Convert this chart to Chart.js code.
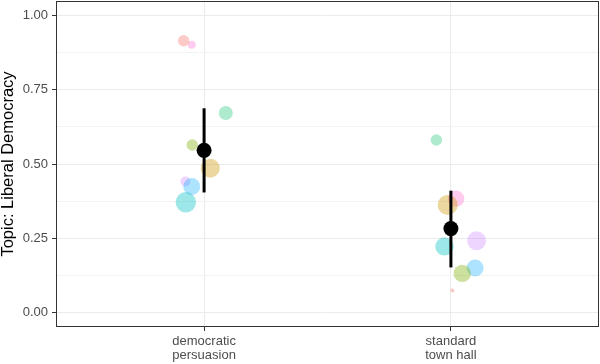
<!DOCTYPE html>
<html>
<head>
<meta charset="utf-8">
<script src="https://cdn.jsdelivr.net/npm/chart.js@4"></script>
<style>
  html, body { margin: 0; padding: 0; background: #ffffff; }
  #wrap { width: 600px; height: 364px; }
</style>
</head>
<body>
<div id="wrap"><canvas id="c" width="600" height="364"></canvas></div>
<script>
// ---- data ----
const categories = ["democratic persuasion", "standard town hall"];
const tickLabels = [["democratic", "persuasion"], ["standard", "town hall"]];
const yTickValues = [0, 0.25, 0.5, 0.75, 1];
const yTickLabels = ["0.00", "0.25", "0.50", "0.75", "1.00"];
const yTitle = "Topic: Liberal Democracy";

const seriesNames = ["s1", "s2", "s3", "s4", "s5", "s6", "s7", "s8"];
// value per category [democratic persuasion, standard town hall]
const s1Values = [0.916, 0.073];
const s2Values = [0.486, 0.362];
const s3Values = [0.564, 0.131];
const s4Values = [0.672, 0.581];
const s5Values = [0.371, 0.222];
const s6Values = [0.424, 0.149];
const s7Values = [0.441, 0.241];
const s8Values = [0.902, 0.383];
// horizontal jitter (in category units)
const s1Jitter = [-0.083, 0.006];
const s2Jitter = [0.025, -0.013];
const s3Jitter = [-0.048, 0.046];
const s4Jitter = [0.088, -0.059];
const s5Jitter = [-0.074, -0.026];
const s6Jitter = [-0.050, 0.098];
const s7Jitter = [-0.076, 0.104];
const s8Jitter = [-0.050, 0.021];
// point size variable
const s1Size = [5.7, 2.0];
const s2Size = [9.5, 10.0];
const s3Size = [5.7, 8.7];
const s4Size = [7.0, 5.7];
const s5Size = [10.2, 9.2];
const s6Size = [8.5, 8.5];
const s7Size = [5.0, 9.4];
const s8Size = [4.0, 8.2];

const meanValues = [0.546, 0.282];
const lowerValues = [0.404, 0.151];
const upperValues = [0.688, 0.410];

// ---- styles ----
const seriesColors = [
  "rgba(248,118,109,0.38)",
  "rgba(205,150,0,0.38)",
  "rgba(124,174,0,0.38)",
  "rgba(0,190,103,0.32)",
  "rgba(0,191,196,0.38)",
  "rgba(0,169,255,0.32)",
  "rgba(199,124,255,0.32)",
  "rgba(255,97,204,0.32)"
];
const allValues = [s1Values, s2Values, s3Values, s4Values, s5Values, s6Values, s7Values, s8Values];
const allJitter = [s1Jitter, s2Jitter, s3Jitter, s4Jitter, s5Jitter, s6Jitter, s7Jitter, s8Jitter];
const allSizes = [s1Size, s2Size, s3Size, s4Size, s5Size, s6Size, s7Size, s8Size];

const datasets = [];
datasets.push({
  type: "scatter",
  label: "mean",
  data: meanValues.map((v, i) => ({ x: i + 1, y: v })),
  backgroundColor: "#000000",
  borderWidth: 0,
  pointRadius: 7.5,
  order: 0
});
categories.forEach((c, i) => {
  datasets.push({
    type: "line",
    label: "interval " + c,
    data: [{ x: i + 1, y: lowerValues[i] }, { x: i + 1, y: upperValues[i] }],
    borderColor: "#000000",
    borderWidth: 3,
    pointRadius: 0,
    fill: false,
    order: 1
  });
});
seriesNames.forEach((name, s) => {
  datasets.push({
    type: "scatter",
    label: name,
    data: allValues[s].map((v, i) => ({ x: i + 1 + allJitter[s][i], y: v })),
    backgroundColor: seriesColors[s],
    borderWidth: 0,
    pointRadius: allSizes[s],
    pointHoverRadius: allSizes[s],
    order: 2 + s
  });
});

const panelBorder = {
  id: "panelBorder",
  afterDraw(chart) {
    const { ctx, chartArea: a } = chart;
    ctx.save();
    ctx.strokeStyle = "#333333";
    ctx.lineWidth = 1;
    ctx.strokeRect(a.left + 0.5, a.top + 0.5, a.right - a.left - 1, a.bottom - a.top - 1);
    ctx.restore();
  }
};

const isMajor = v => yTickValues.some(t => Math.abs(t - v) < 1e-9);

new Chart(document.getElementById("c"), {
  type: "scatter",
  data: { datasets },
  plugins: [panelBorder],
  options: {
    responsive: false,
    animation: false,
    devicePixelRatio: 1,
    layout: { autoPadding: false, padding: { top: 1, right: 1, left: 0, bottom: 0 } },
    plugins: { legend: { display: false }, tooltip: { enabled: false } },
    scales: {
      x: {
        type: "linear",
        min: 0.4,
        max: 2.6,
        afterBuildTicks: s => { s.ticks = categories.map((c, i) => ({ value: i + 1 })); },
        afterFit: s => { s.height = 37; s.paddingLeft = 0; s.paddingRight = 0; },
        grid: { color: "#EBEBEB", lineWidth: 1, tickColor: "#333333", tickLength: 4 },
        border: { display: false },
        ticks: {
          autoSkip: false,
          maxRotation: 0,
          padding: 3,
          color: "#4D4D4D",
          font: { family: "Liberation Sans, Arial, sans-serif", size: 13, lineHeight: 1.1 },
          callback: (v) => tickLabels[Math.round(v) - 1]
        }
      },
      y: {
        type: "linear",
        min: -0.05,
        max: 1.05,
        afterBuildTicks: s => {
          const t = [];
          for (let k = 0; k <= 8; k++) t.push({ value: k * 0.125 });
          s.ticks = t;
        },
        afterFit: s => { s.width = 56; s.paddingTop = 0; s.paddingBottom = 0; },
        grid: {
          color: ctx => isMajor(ctx.tick.value) ? "#EBEBEB" : "#F3F3F3",
          lineWidth: 1,
          tickColor: ctx => isMajor(ctx.tick.value) ? "#333333" : "rgba(0,0,0,0)",
          tickLength: 4
        },
        border: { display: false },
        title: {
          display: true,
          text: yTitle,
          color: "#000000",
          padding: 0,
          font: { family: "Liberation Sans, Arial, sans-serif", size: 16.5, lineHeight: 1 }
        },
        ticks: {
          autoSkip: false,
          padding: 4,
          color: "#4D4D4D",
          font: { family: "Liberation Sans, Arial, sans-serif", size: 13 },
          callback: (v) => {
            const idx = yTickValues.findIndex(t => Math.abs(t - v) < 1e-9);
            return idx >= 0 ? yTickLabels[idx] : "";
          }
        }
      }
    }
  }
});
</script>
</body>
</html>
